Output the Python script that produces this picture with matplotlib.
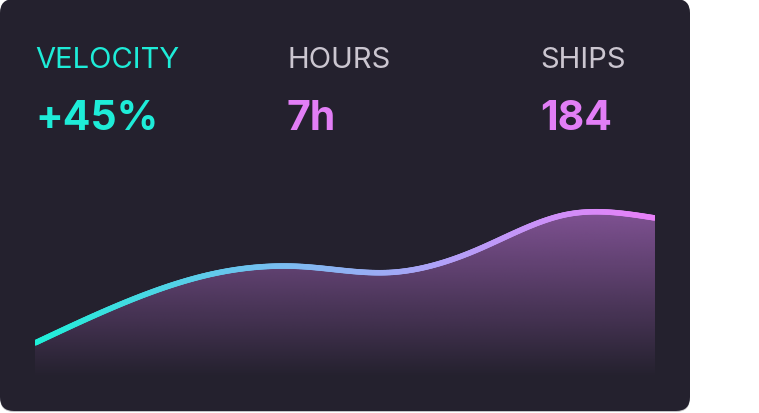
import numpy as np
import matplotlib
matplotlib.use("Agg")
import matplotlib.pyplot as plt
from matplotlib.patches import FancyBboxPatch, Polygon
from matplotlib.collections import LineCollection
from matplotlib.colors import LinearSegmentedColormap, to_rgb

# ---- data ----
stat_labels = ["VELOCITY", "HOURS", "SHIPS"]
stat_values = ["+45%", "7h", "184"]
series = [34, 74, 103, 110.5, 104.5, 127.5, 162.5, 159]

W, H, DPI = 759, 414, 100
BG = "#24212e"
CYAN = "#1eecd8"
PINK = "#e27ef6"
GRAY = "#cbc6d0"

fig = plt.figure(figsize=(W / DPI, H / DPI), dpi=DPI)
fig.patch.set_facecolor("white")

# background axes in pixel coordinates
bg = fig.add_axes([0, 0, 1, 1])
bg.set_xlim(0, W)
bg.set_ylim(H, 0)
bg.axis("off")
shadow = FancyBboxPatch((14, 15), 690 - 28, 412 - 28,
                        boxstyle="round,pad=14", fc="#c4c4c8", ec="none", zorder=0)
bg.add_patch(shadow)
card = FancyBboxPatch((14, 14), 690 - 28, 412 - 28,
                      boxstyle="round,pad=14", fc=BG, ec="none", zorder=1)
bg.add_patch(card)

label_x = [36, 288, 541]
label_colors = [CYAN, GRAY, GRAY]
value_colors = [CYAN, PINK, PINK]
for lx, lab, val, lc, vc in zip(label_x, stat_labels, stat_values, label_colors, value_colors):
    bg.text(lx - 1, 68, lab, color=lc, fontsize=21, family="Inter",
            fontweight="normal", va="baseline", ha="left", zorder=3)
    bg.text(lx - 1, 130, val, color=vc, fontsize=29.5, family="Inter",
            fontweight="bold", va="baseline", ha="left", zorder=3)

# chart axes: x pixels 35..655, y pixels 378 (value 0) .. 200 (value 178)
x0, x1 = 35, 655
ytop, ybot = 200, 378
ax = fig.add_axes([x0 / W, (H - ybot) / H, (x1 - x0) / W, (ybot - ytop) / H])
ax.set_xlim(0, len(series) - 1)
ax.set_ylim(0, ybot - ytop)
ax.axis("off")
ax.patch.set_alpha(0)

# natural cubic spline through the data points (smooth line drawing)
xs = np.arange(len(series), dtype=float)
ys = np.array(series, dtype=float)
n = len(ys)
A = np.zeros((n, n))
rhs = np.zeros(n)
A[0, 0] = A[-1, -1] = 1
for i in range(1, n - 1):
    A[i, i - 1], A[i, i], A[i, i + 1] = 1, 4, 1
    rhs[i] = 6 * (ys[i + 1] - 2 * ys[i] + ys[i - 1])
M = np.linalg.solve(A, rhs)
pts_x, pts_y = [], []
for i in range(n - 1):
    t = np.linspace(0, 1, 60, endpoint=(i == n - 2))
    y = ((1 - t) * ys[i] + t * ys[i + 1]
         + ((1 - t) ** 3 - (1 - t)) * M[i] / 6 + (t ** 3 - t) * M[i + 1] / 6)
    pts_x.append(xs[i] + t)
    pts_y.append(y)
cx = np.concatenate(pts_x)
cy = np.concatenate(pts_y)

# gradient fill under curve
ymax = ybot - ytop
fill_rgb = to_rgb("#b46ecd")
grad = np.zeros((256, 2, 4))
vals = np.linspace(0, ymax, 256)
a = np.clip(vals / 167.0, 0, 1) * 0.64
grad[:, :, 0] = fill_rgb[0]
grad[:, :, 1] = fill_rgb[1]
grad[:, :, 2] = fill_rgb[2]
grad[:, :, 3] = a[:, None]
im = ax.imshow(grad, extent=[0, len(series) - 1, 0, ymax], origin="lower",
               aspect="auto", zorder=1, interpolation="bilinear")
poly = Polygon(np.column_stack([np.concatenate([cx, [cx[-1], cx[0]]]),
                                np.concatenate([cy, [0, 0]])]),
               closed=True, fc="none", ec="none", transform=ax.transData)
ax.add_patch(poly)
im.set_clip_path(poly)

# gradient line (round joins between segments, clipped flat at the axes edges)
cmap = LinearSegmentedColormap.from_list("ln", ["#1ef0d8", "#6cc4ee", "#b2a0f8", "#e880f8"])
segs = np.stack([np.column_stack([cx[:-1], cy[:-1]]), np.column_stack([cx[1:], cy[1:]])], axis=1)
lc = LineCollection(segs, cmap=cmap, linewidths=4.0, capstyle="round", joinstyle="round",
                    zorder=3, antialiaseds=True)
lc.set_array((cx[:-1] + cx[1:]) / 2 / (len(series) - 1))
lc.set_clim(0, 1)
ax.add_collection(lc)

fig.savefig("out.png", dpi=DPI, facecolor="white")
